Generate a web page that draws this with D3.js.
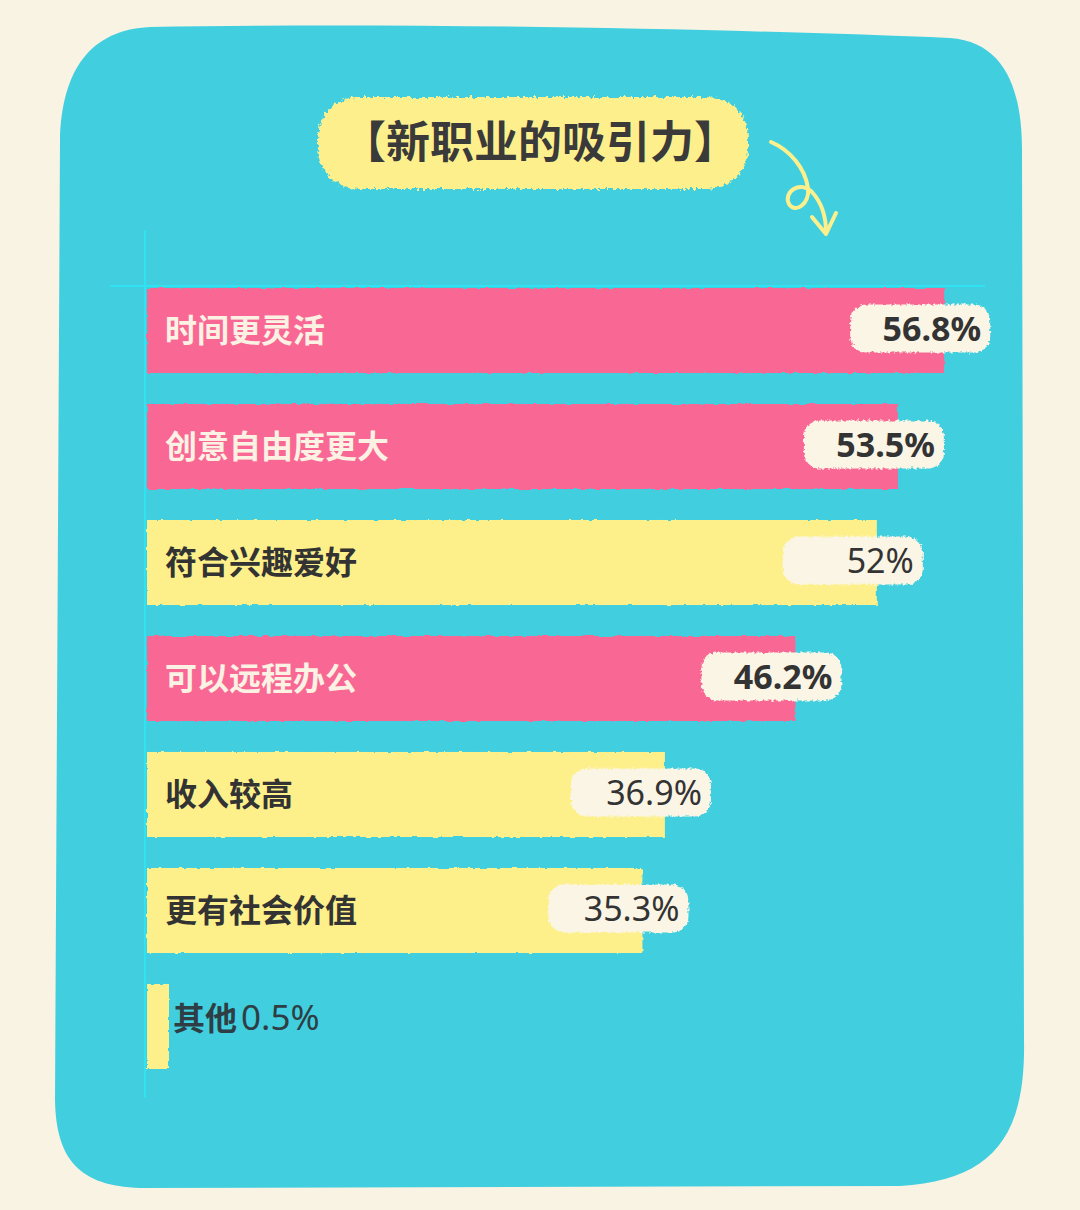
<!DOCTYPE html>
<html><head><meta charset="utf-8">
<script src="https://cdn.jsdelivr.net/npm/d3@7/dist/d3.min.js"></script>
<style>
html,body{margin:0;padding:0;background:#f9f3e3;}
svg{display:block;}
</style></head>
<body>
<svg id="chart" width="1080" height="1210"></svg>
<script>
const title = "【新职业的吸引力】";
const categories = ["时间更灵活","创意自由度更大","符合兴趣爱好","可以远程办公","收入较高","更有社会价值","其他"];
const values = [56.8, 53.5, 52, 46.2, 36.9, 35.3, 0.5];
const valueLabels = ["56.8%","53.5%","52%","46.2%","36.9%","35.3%","0.5%"];
const highlighted = [true, true, false, true, false, false, false];

const svg = d3.select("#chart");
const defs = svg.append("defs");

function roughFilter(id, freq, scale, seed){
  const f = defs.append("filter").attr("id", id)
    .attr("x","-5%").attr("y","-10%").attr("width","110%").attr("height","120%");
  f.append("feTurbulence").attr("type","fractalNoise").attr("baseFrequency",freq)
    .attr("numOctaves",2).attr("seed",seed).attr("result","n");
  f.append("feDisplacementMap").attr("in","SourceGraphic").attr("in2","n")
    .attr("scale",scale).attr("xChannelSelector","R").attr("yChannelSelector","G");
}
roughFilter("roughBar", 0.15, 3, 3);
roughFilter("roughPill", 0.35, 5, 7);
roughFilter("roughTitle", 0.3, 7, 11);

// background panel
svg.append("path")
  .attr("d","M150,27 C420,22 760,30 950,38 C1005,42 1022,90 1022,150 L1024,1040 C1026,1140 990,1180 900,1186 L140,1188 C80,1186 56,1160 55,1100 L60,140 C62,70 90,30 150,27 Z")
  .attr("fill","#41cfe0");

// title blob
svg.append("rect")
  .attr("x",318).attr("y",97).attr("width",430).attr("height",92).attr("rx",40)
  .attr("fill","#fdf08c").attr("filter","url(#roughTitle)");
svg.append("text")
  .attr("x",540).attr("y",142).attr("dy","0.36em")
  .attr("text-anchor","middle")
  .attr("font-family","'Noto Sans CJK SC', sans-serif")
  .attr("font-weight",700).attr("font-size",44)
  .attr("fill","#3a3a3a").text(title);

// squiggle arrow
svg.append("path")
  .attr("d","M771,142 C790,150 805,168 808,188 C810,204 795,214 789,204 C783,192 800,180 812,192 C822,203 826,218 826,232")
  .attr("fill","none").attr("stroke","#fdf08c").attr("stroke-width",4).attr("stroke-linecap","round");
svg.append("path")
  .attr("d","M812,217 L826,234 L836,213")
  .attr("fill","none").attr("stroke","#fdf08c").attr("stroke-width",4)
  .attr("stroke-linecap","round").attr("stroke-linejoin","round");

// scales
const x = d3.scaleLinear().domain([0, 57]).range([147, 947]);
const y = d3.scaleBand().domain(categories).range([288, 1069]).paddingInner(0.267).paddingOuter(0);
const color = d3.scaleOrdinal().domain([true,false]).range(["#f96794","#fdf08a"]);
const labelColor = d3.scaleOrdinal().domain([true,false]).range(["#fbf2e4","#333333"]);
const minW = 22;

// axis lines
const yAxis = d3.axisLeft(y).tickSize(0).tickFormat("");
svg.append("g").attr("transform","translate(145,0)").call(yAxis)
  .call(g=>g.select(".domain").attr("d","M0,230V1098").attr("stroke","#2fe3f2").attr("stroke-width",2));
const xAxis = d3.axisTop(x).tickValues([]).tickSizeOuter(0);
svg.append("g").attr("transform","translate(0,286)").call(xAxis)
  .call(g=>g.select(".domain").attr("d","M110,0H985").attr("stroke","#2fe3f2").attr("stroke-width",2));

const data = categories.map((c,i)=>({c, v:values[i], lab:valueLabels[i], h:highlighted[i], i}));

// bars
svg.append("g").selectAll("rect").data(data).join("rect")
  .attr("x", x(0))
  .attr("y", d=>y(d.c))
  .attr("width", d=>Math.max(x(d.v)-x(0), minW))
  .attr("height", y.bandwidth())
  .attr("fill", d=>color(d.h))
  .attr("filter","url(#roughBar)");

const big = data.filter(d=>d.v >= 5);
const small = data.filter(d=>d.v < 5);

// pills
const pillW = 140, pillH = 48;
svg.append("g").selectAll("rect").data(big).join("rect")
  .attr("x", d=>x(d.v)-94)
  .attr("y", d=>y(d.c)+y.bandwidth()/2-pillH/2-2)
  .attr("width", pillW).attr("height", pillH).attr("rx", 16)
  .attr("fill","#fbf5e6").attr("filter","url(#roughPill)");

svg.append("g").selectAll("text").data(big).join("text")
  .attr("x", d=>x(d.v)-94+pillW-9)
  .attr("y", d=>y(d.c)+y.bandwidth()/2-2)
  .attr("dy","0.36em").attr("text-anchor","end")
  .attr("font-family","'Noto Sans', 'Open Sans', sans-serif")
  .attr("font-weight", d=>d.h?700:400)
  .attr("font-size",34).attr("fill","#333333")
  .text(d=>d.lab);

// category labels
svg.append("g").selectAll("text").data(big).join("text")
  .attr("x",165)
  .attr("y", d=>y(d.c)+y.bandwidth()/2)
  .attr("dy","0.36em")
  .attr("font-family","'Noto Sans CJK SC', sans-serif")
  .attr("font-weight",700).attr("font-size",32)
  .attr("fill", d=>labelColor(d.h))
  .text(d=>d.c);

// small value label ("其他 0.5%")
const st = svg.append("g").selectAll("text").data(small).join("text")
  .attr("x", d=>x(0)+Math.max(x(d.v)-x(0),minW)+4)
  .attr("y", d=>y(d.c)+y.bandwidth()/2-2)
  .attr("dy","0.36em")
  .attr("fill","#2e3e44");
st.append("tspan").attr("font-family","'Noto Sans CJK SC', sans-serif")
  .attr("font-weight",700).attr("font-size",32).text(d=>d.c);
st.append("tspan").attr("dx",4).attr("font-family","'Noto Sans', sans-serif")
  .attr("font-weight",400).attr("font-size",35).text(d=>d.lab);
</script>
</body></html>
